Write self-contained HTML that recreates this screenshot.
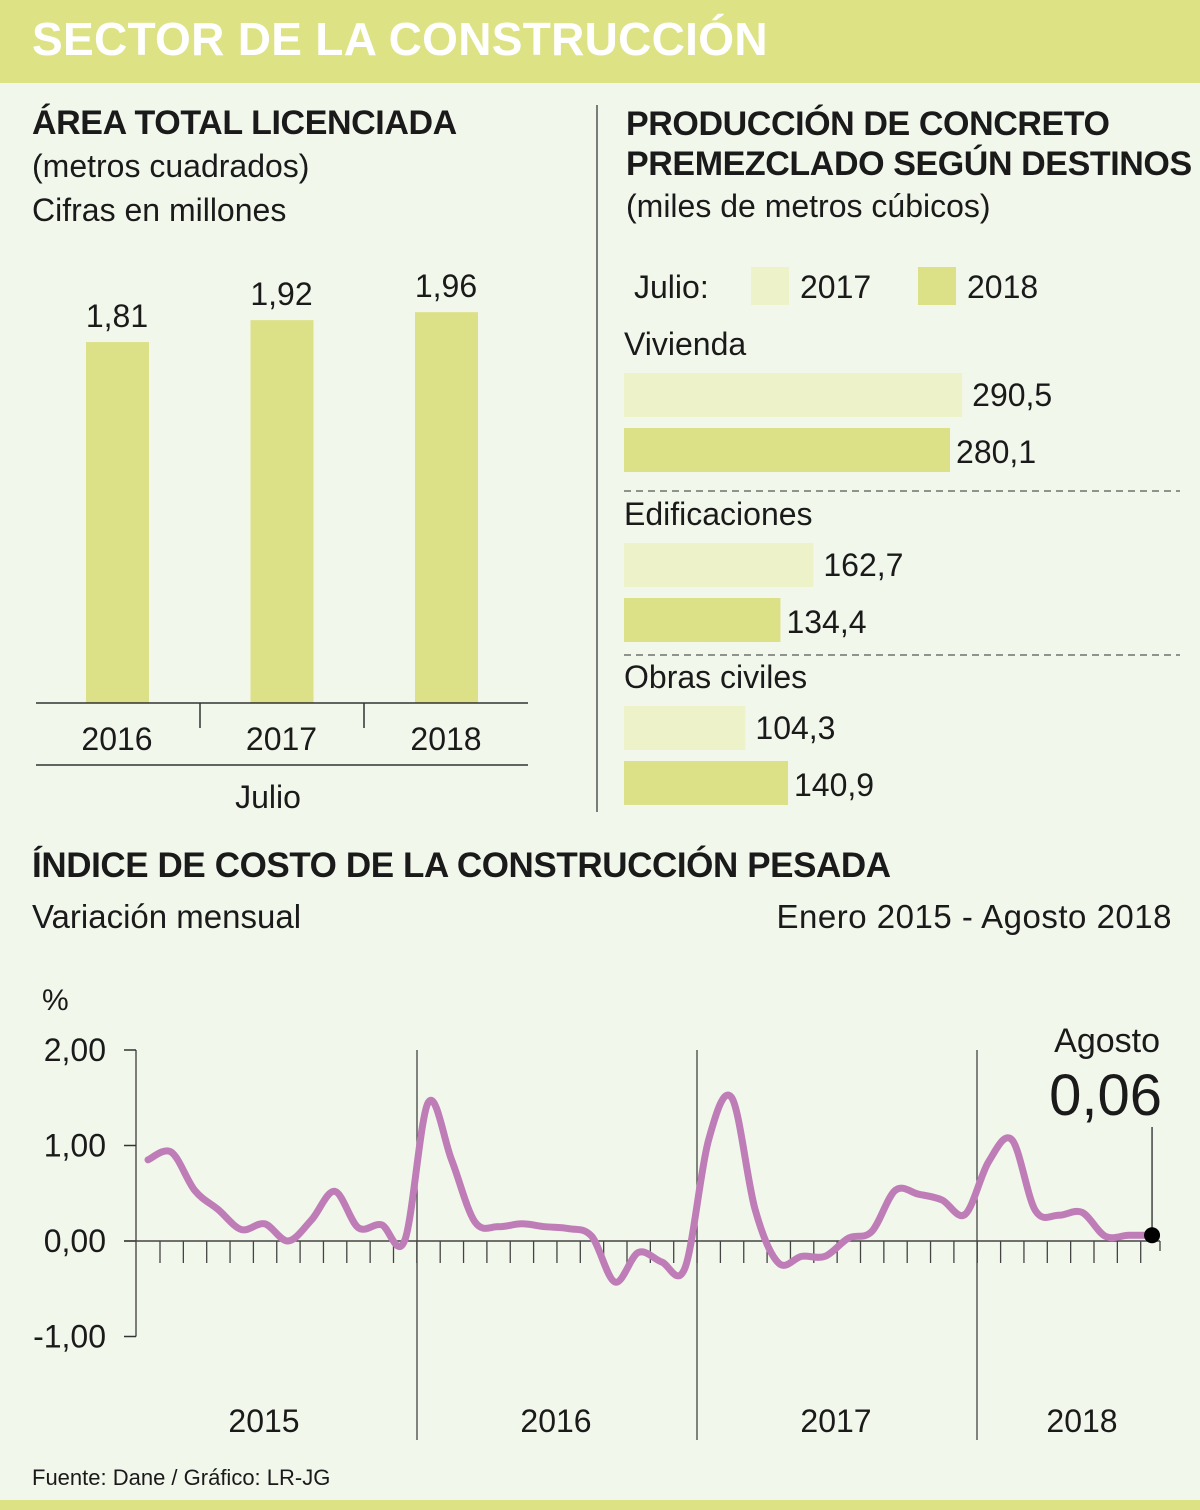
<!DOCTYPE html>
<html><head><meta charset="utf-8">
<style>
*{margin:0;padding:0;box-sizing:border-box}
body{width:1200px;height:1510px;background:#f2f7ec;font-family:"Liberation Sans",sans-serif;color:#1a1a1a;position:relative;overflow:hidden}
.t{position:absolute;white-space:nowrap}
.b{font-weight:bold;letter-spacing:-0.4px}
svg{position:absolute;left:0;top:0}
</style></head><body>
<div style="position:absolute;left:0;top:0;width:1200px;height:83px;background:#dde385"></div>
<div class="t b" style="left:32px;top:12px;font-size:46px;color:#fff;letter-spacing:0.3px">SECTOR DE LA CONSTRUCCIÓN</div>

<div class="t b" style="left:32px;top:104px;font-size:34px">ÁREA TOTAL LICENCIADA</div>
<div class="t" style="left:32px;top:144px;font-size:32px;line-height:44px">(metros cuadrados)<br>Cifras en millones</div>

<div class="t b" style="left:626px;top:104px;font-size:34px;line-height:40px">PRODUCCIÓN DE CONCRETO<br>PREMEZCLADO SEGÚN DESTINOS</div>
<div class="t" style="left:626px;top:188px;font-size:32px">(miles de metros cúbicos)</div>

<div class="t b" style="left:32px;top:846px;font-size:35px">ÍNDICE DE COSTO DE LA CONSTRUCCIÓN PESADA</div>
<div class="t" style="left:32px;top:898px;font-size:33px">Variación mensual</div>
<div class="t" style="right:28px;top:898px;font-size:33px;letter-spacing:0.5px">Enero 2015 - Agosto 2018</div>
<div class="t" style="left:32px;top:1465px;font-size:22px">Fuente: Dane / Gráfico: LR-JG</div>
<div style="position:absolute;left:0;top:1500px;width:1200px;height:10px;background:#dde385"></div>

<svg id="chart" width="1200" height="1510"></svg>

<script>
const areaYears=["2016","2017","2018"];
const areaValues=[1.81,1.92,1.96];
const areaLabels=["1,81","1,92","1,96"];

const concreteCats=["Vivienda","Edificaciones","Obras civiles"];
const concrete2017=[290.5,162.7,104.3];
const concrete2018=[280.1,134.4,140.9];
const concreteLabels2017=["290,5","162,7","104,3"];
const concreteLabels2018=["280,1","134,4","140,9"];

const icyYears=["2015","2016","2017","2018"];
const icyTicks=[2,1,0,-1];
const icyTickLabels=["2,00","1,00","0,00","-1,00"];
const icyValues=[0.85,0.93,0.53,0.33,0.12,0.18,0.0,0.22,0.52,0.14,0.17,0.01,
1.45,0.85,0.2,0.15,0.18,0.15,0.13,0.05,-0.43,-0.12,-0.22,-0.28,
1.05,1.5,0.33,-0.23,-0.16,-0.16,0.03,0.1,0.53,0.49,0.43,0.28,
0.83,1.06,0.32,0.27,0.3,0.05,0.06,0.06];

const NS="http://www.w3.org/2000/svg";
const svg=document.getElementById('chart');
function mk(tag,attrs,parent){const e=document.createElementNS(NS,tag);for(const k in attrs)e.setAttribute(k,attrs[k]);(parent||svg).appendChild(e);return e;}
function txt(x,y,s,size,anchor,extra){const e=mk('text',Object.assign({x:x,y:y,'font-size':size,'text-anchor':anchor||'start','font-family':'Liberation Sans, sans-serif',fill:'#1a1a1a'},extra||{}));e.textContent=s;return e;}

// ---- Area bar chart ----
const base=703, pxU=199.4;
const barX=i=>86+i*164.5;
const barY=v=>base-v*pxU;
areaValues.forEach((v,i)=>{
  const r=mk('rect',{x:barX(i),y:barY(v),width:63,height:base-barY(v),fill:'#dce086'});
  
  
  const l=txt(barX(i)+31,barY(v)-15,areaLabels[i],32,'middle');
  
  
  const y=txt(barX(i)+31,750,areaYears[i],32,'middle');
  
  
});
mk('line',{x1:36,y1:703,x2:528,y2:703,stroke:'#333','stroke-width':1.5});
mk('line',{x1:200,y1:703,x2:200,y2:728,stroke:'#333','stroke-width':1.5});
mk('line',{x1:364,y1:703,x2:364,y2:728,stroke:'#333','stroke-width':1.5});
mk('line',{x1:36,y1:765,x2:528,y2:765,stroke:'#333','stroke-width':1.5});
const jl=txt(268,808,'Julio',32,'middle');


mk('line',{x1:597,y1:105,x2:597,y2:812,stroke:'#555','stroke-width':1.5});

// ---- Concrete horizontal bars ----
const hx0=624, hpx=1.164;
const hw=v=>v*hpx;
txt(634,298,'Julio:',32);
mk('rect',{x:751,y:267,width:38,height:38,fill:'#eef2c8'});
txt(800,298,'2017',32);
mk('rect',{x:918,y:267,width:38,height:38,fill:'#dce086'});
txt(967,298,'2018',32);
const groupTop=[373,543,706];
concreteCats.forEach((c,i)=>{
  const gt=groupTop[i];
  const cl=txt(624,gt-18,c,32);
  
  
  const r1=mk('rect',{x:hx0,y:gt,width:hw(concrete2017[i]),height:44,fill:'#eef2c8'});
  
  
  const r2=mk('rect',{x:hx0,y:gt+55,width:hw(concrete2018[i]),height:44,fill:'#dce086'});
  
  
  txt(hx0+hw(concrete2017[i])+10,gt+33,concreteLabels2017[i],32);
  txt(hx0+hw(concrete2018[i])+6,gt+88+2,concreteLabels2018[i],32);
});
[491,655].forEach(y=>mk('line',{x1:624,y1:y,x2:1180,y2:y,stroke:'#555','stroke-width':1.2,'stroke-dasharray':'7,5'}));

// ---- Line chart ----
const y0=1241, yU=95.5;
const ly=v=>y0-v*yU;
const lx=i=>148+i*23.35;
txt(42,1010,'%',30);
mk('line',{x1:136,y1:ly(2),x2:136,y2:ly(-1),stroke:'#555','stroke-width':1.5});
icyTicks.forEach((t,k)=>{
  mk('line',{x1:124,y1:ly(t),x2:136,y2:ly(t),stroke:'#333','stroke-width':1.5});
  const e=txt(106,ly(t)+11,icyTickLabels[k],32,'end');
  
  
});
mk('line',{x1:124,y1:y0,x2:1160,y2:y0,stroke:'#444','stroke-width':1.5});
for(let i=0;i<=43;i++){
  const x=lx(i)+12;
  if(x<1150) mk('line',{x1:x,y1:y0,x2:x,y2:y0+22,stroke:'#444','stroke-width':1.3});
}
mk('line',{x1:1160,y1:y0,x2:1160,y2:y0+10,stroke:'#444','stroke-width':1.3});
const yearLineX=[417,697,977];
yearLineX.forEach(x=>mk('line',{x1:x,y1:1050,x2:x,y2:1440,stroke:'#444','stroke-width':1.3}));
const yearCenters=[264,556,836,1082];
icyYears.forEach((y,k)=>{
  const e=txt(yearCenters[k],1432,y,32,'middle');
  
  
});
const pts=icyValues.map((v,i)=>[lx(i),ly(v)]);
let d='M'+pts[0][0]+','+pts[0][1];
for(let i=0;i<pts.length-1;i++){
  const p0=pts[Math.max(0,i-1)],p1=pts[i],p2=pts[i+1],p3=pts[Math.min(pts.length-1,i+2)];
  const c1=[p1[0]+(p2[0]-p0[0])/6,p1[1]+(p2[1]-p0[1])/6];
  const c2=[p2[0]-(p3[0]-p1[0])/6,p2[1]-(p3[1]-p1[1])/6];
  d+=' C'+c1[0]+','+c1[1]+' '+c2[0]+','+c2[1]+' '+p2[0]+','+p2[1];
}
const path=mk('path',{d:d,fill:'none',stroke:'#bf7db8','stroke-width':7,'stroke-linecap':'round','stroke-linejoin':'round'});


const last=pts[pts.length-1];
mk('line',{x1:last[0],y1:1127,x2:last[0],y2:last[1],stroke:'#444','stroke-width':1.5});
const dot=mk('circle',{cx:last[0],cy:last[1],r:8,fill:'#000'});


txt(1160,1052,'Agosto',34,'end');
const lv=txt(1162,1115,icyValues[icyValues.length-1].toFixed(2).replace('.',','),58,'end');


</script>
</body></html>
